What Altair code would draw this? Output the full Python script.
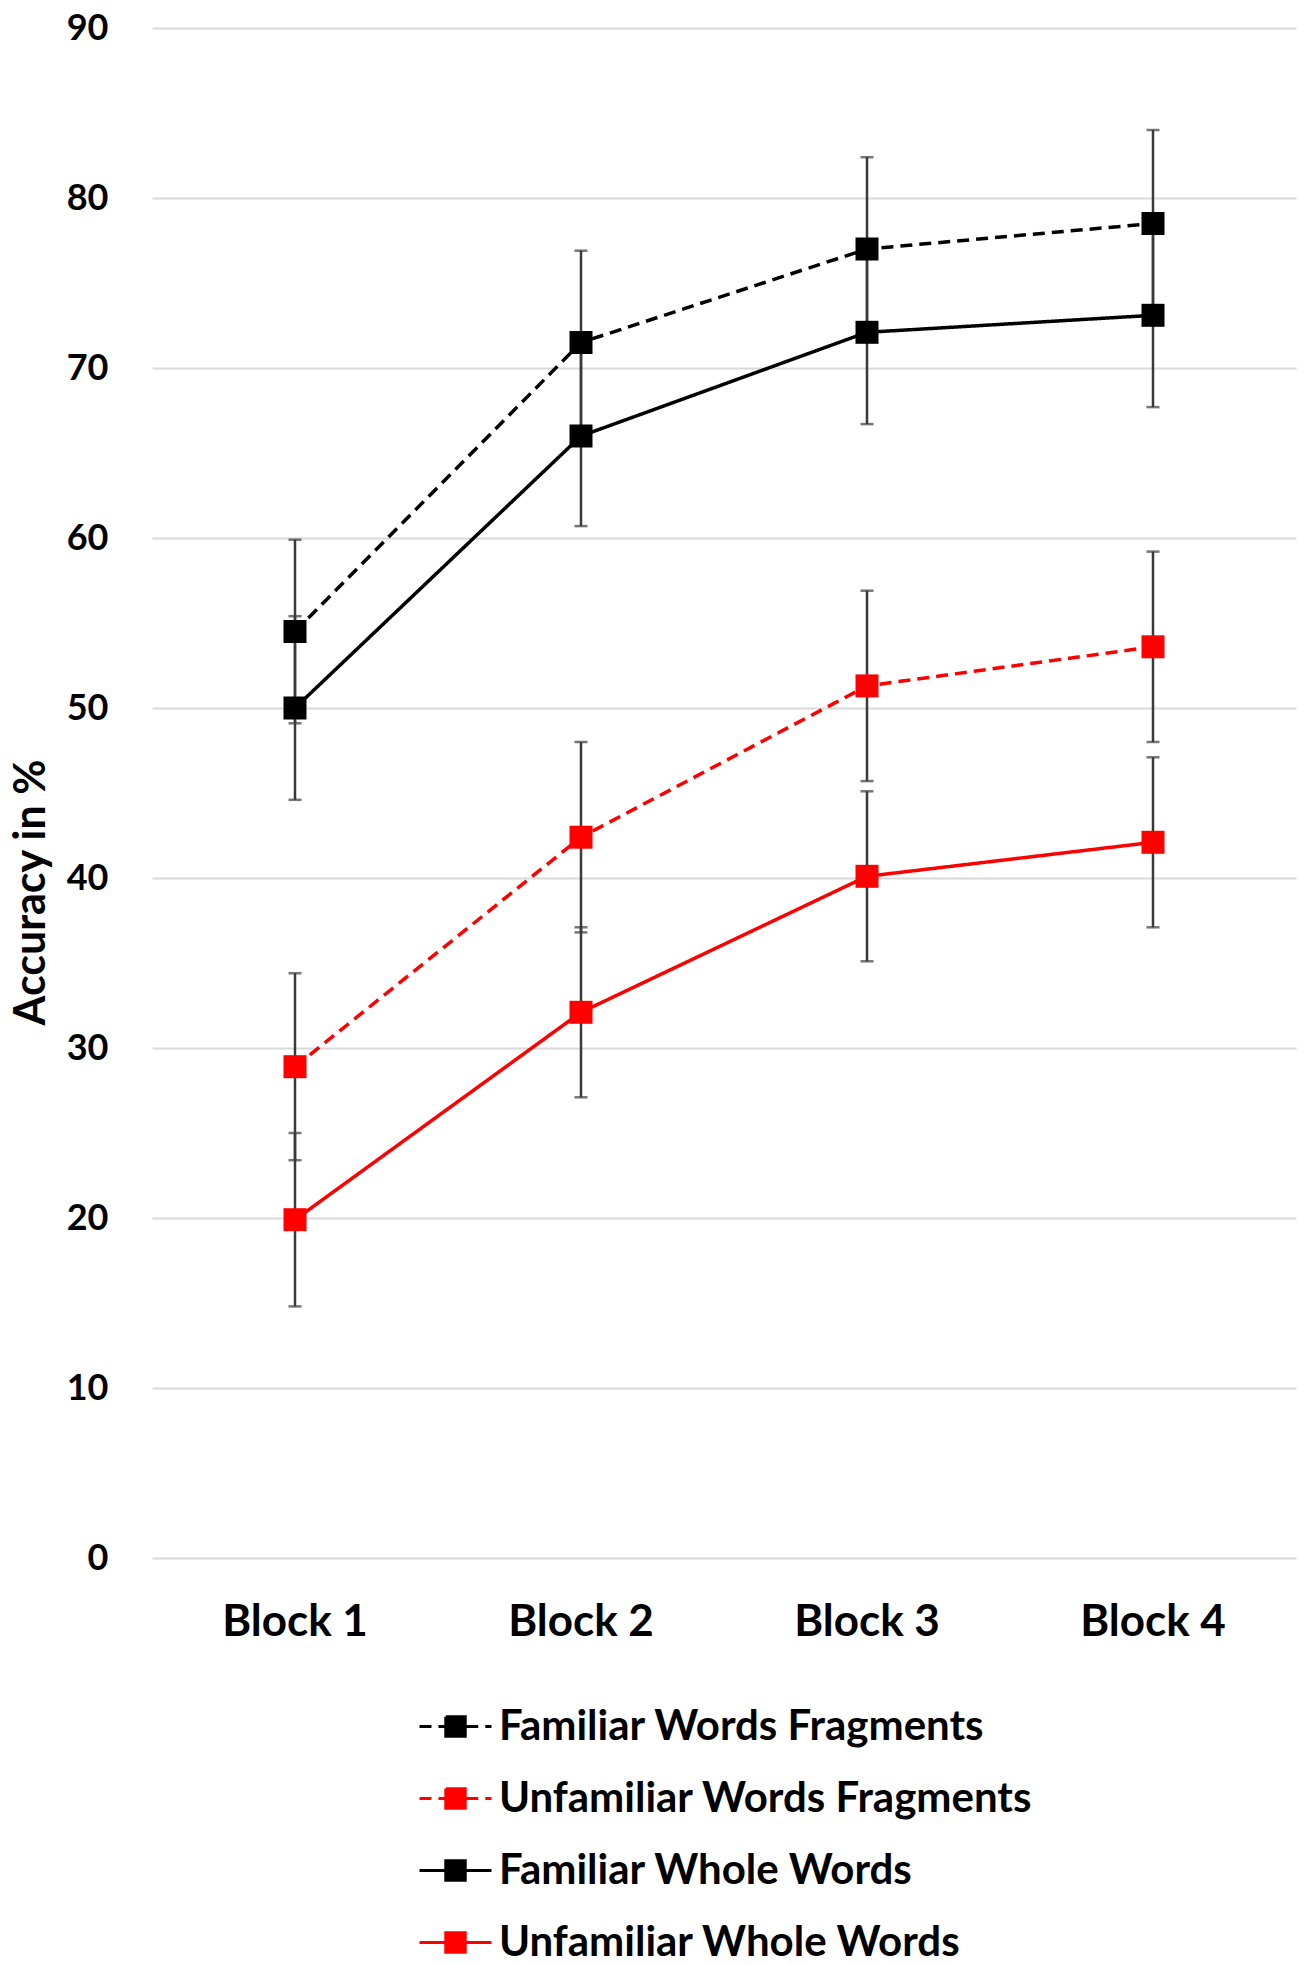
import altair as alt
import pandas as pd

blocks = ["Block 1", "Block 2", "Block 3", "Block 4"]
series = [
    "Familiar Words Fragments",
    "Unfamiliar Words Fragments",
    "Familiar Whole Words",
    "Unfamiliar Whole Words",
]
fwf_mean = [54.5, 71.5, 77.0, 78.5]
fwf_err = [5.4, 5.4, 5.4, 5.5]
uwf_mean = [28.9, 42.4, 51.3, 53.6]
uwf_err = [5.5, 5.6, 5.6, 5.6]
fww_mean = [50.0, 66.0, 72.1, 73.1]
fww_err = [5.4, 5.3, 5.4, 5.4]
uww_mean = [19.9, 32.1, 40.1, 42.1]
uww_err = [5.1, 5.0, 5.0, 5.0]

series_colors = ["#000000", "#FF0000", "#000000", "#FF0000"]
series_dash = [[12, 7], [12, 7], [1, 0], [1, 0]]

# legend glyph: line segments either side of a square marker; the square is
# built of small tiles so that a dashed outline still looks solid
_half, _n = 0.27, 8
_step = 2 * _half / _n
_tiles = "".join(
    f"M{-_half + i * _step:.4f},{-_half + j * _step:.4f}"
    f"h{_step:.4f}v{_step:.4f}h{-_step:.4f}Z"
    for i in range(_n) for j in range(_n)
)
legend_glyph = "M-1,0H-0.3M0.3,0H1" + _tiles

rows = []
for name, means, errs in zip(series, [fwf_mean, uwf_mean, fww_mean, uww_mean],
                             [fwf_err, uwf_err, fww_err, uww_err]):
    for b, m, e in zip(blocks, means, errs):
        rows.append({"series": name, "block": b, "mean": m, "lo": m - e, "hi": m + e})
df = pd.DataFrame(rows)

FONT = "Lato"

x_enc = alt.X("block:N", sort=blocks, title=None,
              axis=alt.Axis(labelAngle=0, labelFontSize=44, labelFont=FONT,
                            labelFontWeight="bold", labelColor="#000000",
                            ticks=False, tickSize=0, domain=False, grid=False,
                            labelPadding=42))

def y_enc(field):
    return alt.Y(f"{field}:Q", title="Accuracy in %",
                 scale=alt.Scale(domain=[0, 90], nice=False),
                 axis=alt.Axis(values=list(range(0, 91, 10)), labelFontSize=36,
                               labelFont=FONT, labelFontWeight="bold",
                               labelColor="#000000", ticks=False, tickSize=0,
                               domain=False, grid=True, gridColor="#d9d9d9",
                               gridWidth=2, labelPadding=44,
                               titleFont=FONT, titleFontSize=43,
                               titleFontWeight="bold", titleColor="#000000",
                               titleAngle=270, titleX=-99, titleY=864,
                               titleAlign="center", titleBaseline="bottom"))

leg = alt.Legend(
    title=None, orient="none", legendX=266, legendY=1661,
    direction="vertical", symbolType=legend_glyph, symbolSize=5184,
    symbolStrokeWidth=3, symbolOpacity=1,
    labelFont=FONT, labelFontSize=42, labelFontWeight="bold",
    labelColor="#000000", labelLimit=1000, labelOffset=6,
    rowPadding=13, padding=0)

base = alt.Chart(df)

err_rule = base.mark_rule(color="#3a3a3a", strokeWidth=2.5).encode(
    x=x_enc, y=y_enc("lo"), y2="hi:Q")
cap_lo = base.mark_tick(color="#3a3a3a", thickness=2.5, size=13).encode(
    x=x_enc, y=y_enc("lo"))
cap_hi = base.mark_tick(color="#3a3a3a", thickness=2.5, size=13).encode(
    x=x_enc, y=y_enc("hi"))

line = base.mark_line(strokeWidth=3.5).encode(
    x=x_enc, y=y_enc("mean"),
    color=alt.Color("series:N", scale=alt.Scale(domain=series, range=series_colors),
                    sort=series, legend=leg),
    strokeDash=alt.StrokeDash("series:N", scale=alt.Scale(domain=series, range=series_dash),
                              sort=series, legend=leg),
)

points = base.mark_square(size=529, opacity=1).encode(
    x=x_enc, y=y_enc("mean"),
    fill=alt.Fill("series:N", scale=alt.Scale(domain=series, range=series_colors),
                  sort=series, legend=leg),
)

chart = alt.layer(err_rule, cap_lo, cap_hi, line, points).properties(
    width=1144, height=1530,
    autosize=alt.AutoSizeParams(type="none"),
    padding={"left": 144, "top": 20, "right": 2, "bottom": 406},
).configure_view(stroke=None)

chart.save("out.html", embed_options={"renderer": "svg", "actions": False})
